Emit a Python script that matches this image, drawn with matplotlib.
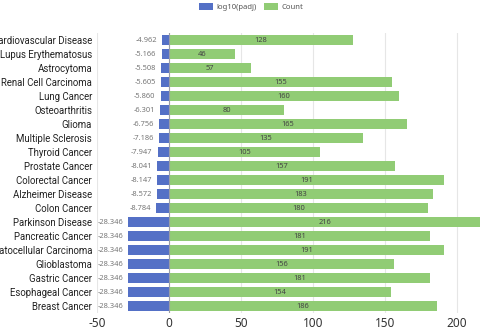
import matplotlib
matplotlib.use("Agg")
import matplotlib.pyplot as plt
from matplotlib.patches import Patch

categories = [
    "Cardiovascular Disease", "Lupus Erythematosus", "Astrocytoma",
    "Renal Cell Carcinoma", "Lung Cancer", "Osteoarthritis", "Glioma",
    "Multiple Sclerosis", "Thyroid Cancer", "Prostate Cancer",
    "Colorectal Cancer", "Alzheimer Disease", "Colon Cancer",
    "Parkinson Disease", "Pancreatic Cancer", "Hepatocellular Carcinoma",
    "Glioblastoma", "Gastric Cancer", "Esophageal Cancer", "Breast Cancer",
]
log10_padj = [-4.962, -5.166, -5.508, -5.605, -5.860, -6.301, -6.756,
              -7.186, -7.947, -8.041, -8.147, -8.572, -8.784,
              -28.346, -28.346, -28.346, -28.346, -28.346, -28.346, -28.346]
counts = [128, 46, 57, 155, 160, 80, 165, 135, 105, 157, 191, 183, 180,
          216, 181, 191, 156, 181, 154, 186]
x_ticks = [-50, 0, 50, 100, 150, 200]

BLUE = "#5470c6"
GREEN = "#91cc75"
FONT = "Noto Sans"
LFONT = "Roboto"

fig = plt.figure(figsize=(5, 3.3), dpi=100)
ax = fig.add_axes([97/500, 1-313/330, 0.864, 280/330])

y = list(range(len(categories)))
ax.barh(y, log10_padj, height=0.7, color=BLUE, zorder=3)
ax.barh(y, counts, height=0.7, color=GREEN, zorder=3)

for yi, v, c in zip(y, log10_padj, counts):
    ax.text(v - 3.5, yi, f"{v:.3f}", ha="right", va="center",
            fontsize=5.4, color="#777777", family=FONT, zorder=4)
    ax.text(c / 2, yi, f"{c}", ha="center", va="center",
            fontsize=5.4, color="#444444", family=FONT, zorder=4)

ax.set_xlim(-50, 250)
ax.set_ylim(len(categories) - 0.5, -0.5)
ax.set_xticks(x_ticks)
ax.set_xticklabels([str(t) for t in x_ticks], family=FONT, fontsize=8.5, color="#333333")
ax.set_yticks(y)
ax.set_yticklabels(categories, family=LFONT, fontsize=6.9, color="#222222")
ax.tick_params(axis="both", length=0)
ax.tick_params(axis="y", pad=3.5)
ax.tick_params(axis="x", pad=3)
for s in ax.spines.values():
    s.set_visible(False)
ax.grid(axis="x", color="#e6e6e6", linewidth=0.8, zorder=0)
ax.axvline(0, color="#9a9ca4", linewidth=0.8, zorder=5)

handles = [Patch(facecolor=BLUE, label="log10(padj)"),
           Patch(facecolor=GREEN, label="Count")]
fig.legend(handles=handles, loc="center", bbox_to_anchor=(251/500, 1-7/330),
           ncol=2, frameon=False, prop={"family": FONT, "size": 5.5},
           handlelength=1.9, handleheight=1.0, columnspacing=0.9,
           handletextpad=0.4, labelcolor="#555555")

fig.savefig("out.png", dpi=100)
